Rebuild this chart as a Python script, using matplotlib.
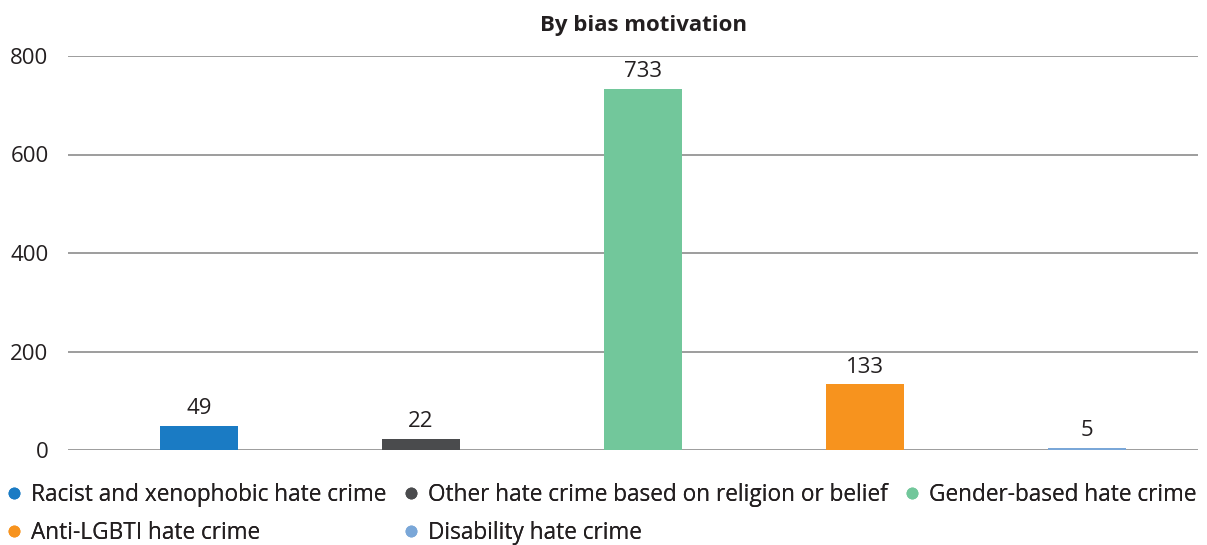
import matplotlib.pyplot as plt
from matplotlib.lines import Line2D

plt.rcParams['font.family'] = ['Open Sans', 'DejaVu Sans']

categories = ['Racist and xenophobic hate crime',
              'Other hate crime based on religion or belief',
              'Gender-based hate crime',
              'Anti-LGBTI hate crime',
              'Disability hate crime']
values = [49, 22, 733, 133, 5]
colors = ['#1a7bc4', '#4a4b4d', '#72c79b', '#f7931e', '#7aa7d8']
yticks = [0, 200, 400, 600, 800]

W, H = 1207, 545


def main():
    fig = plt.figure(figsize=(W / 100, H / 100), dpi=100)
    ax = fig.add_axes([68 / W, 95 / H, 1130 / W, 394 / H])

    x = range(len(values))
    ax.bar(x, values, width=0.347, color=colors, zorder=3)
    for xi, v in zip(x, values):
        ax.annotate(str(v), (xi, v), xytext=(0, 5), textcoords='offset points',
                    ha='center', va='bottom', fontsize=16, color='#231f20')

    ax.set_xlim(-0.59, 4.5)
    ax.set_ylim(0, 800)
    ax.set_yticks(yticks)
    ax.set_yticklabels([str(t) for t in yticks], fontsize=16, color='#231f20')
    ax.tick_params(axis='y', length=0, pad=14)
    ax.set_xticks([])
    ax.grid(axis='y', color='#8c8c8c', lw=1.2, zorder=0)
    for s in ax.spines.values():
        s.set_visible(False)

    fig.text(644 / W, 1 - 25 / H, 'By bias motivation', ha='center',
             va='center', fontsize=16, fontweight='bold', color='#231f20')

    # legend laid out in three columns like the original
    columns = [([0, 3], 7), ([1, 4], 404), ([2], 905)]
    for idx, xpx in columns:
        handles = [Line2D([], [], ls='', marker='o', ms=7.5, color=colors[i])
                   for i in idx]
        leg = fig.legend(handles, [categories[i] for i in idx],
                         loc='upper left',
                         bbox_to_anchor=(xpx / W, 1 - 483 / H),
                         frameon=False, fontsize=16.3, handlelength=0.6,
                         handletextpad=0.45, labelspacing=0.62,
                         borderaxespad=0, borderpad=0,
                         labelcolor='#231f20')
        fig.add_artist(leg)

    fig.savefig('out.png', dpi=100)


if __name__ == "__main__":
    main()
